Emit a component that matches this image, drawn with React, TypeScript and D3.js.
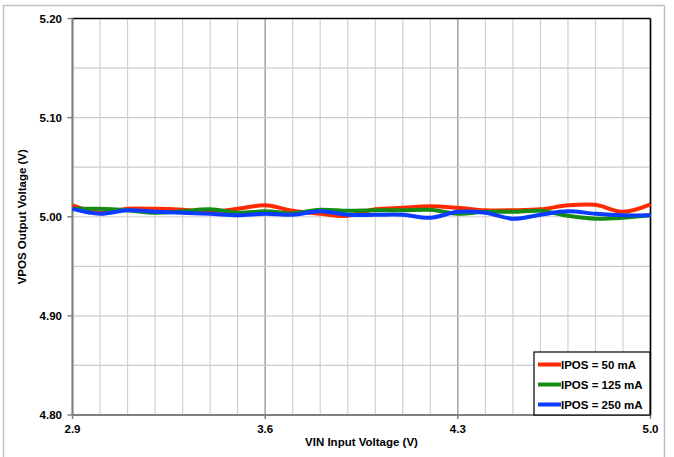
import React from "react";
import * as d3 from "d3";

const xValues = [2.9, 3.0, 3.1, 3.2, 3.3, 3.4, 3.5, 3.6, 3.7, 3.8, 3.9, 4.0, 4.1, 4.2, 4.3, 4.4, 4.5, 4.6, 4.7, 4.8, 4.9, 5.0];
const ipos50 = [5.0115, 5.004, 5.008, 5.008, 5.007, 5.005, 5.008, 5.0115, 5.006, 5.003, 5.001, 5.0075, 5.009, 5.0105, 5.009, 5.0065, 5.0065, 5.0075, 5.0115, 5.012, 5.005, 5.0125];
const ipos125 = [5.008, 5.008, 5.0065, 5.004, 5.0055, 5.0075, 5.004, 5.0055, 5.0035, 5.007, 5.006, 5.0065, 5.0065, 5.007, 5.003, 5.005, 5.005, 5.006, 5.001, 4.998, 4.999, 5.0015];
const ipos250 = [5.008, 5.003, 5.0065, 5.005, 5.004, 5.003, 5.0015, 5.003, 5.002, 5.0055, 5.002, 5.002, 5.002, 4.999, 5.005, 5.004, 4.998, 5.002, 5.0055, 5.003, 5.0015, 5.0015];
const seriesNames = ["IPOS = 50 mA", "IPOS = 125 mA", "IPOS = 250 mA"];
const seriesColors = ["#ff2a00", "#148c14", "#0a3cff"];
const xTickLabels = [2.9, 3.6, 4.3, 5.0];
const yTickLabels = [4.8, 4.9, 5.0, 5.1, 5.2];

export default function App() {
  const W = 674, H = 457;
  const left = 72.5, right = 650.5, top = 18.5, bottom = 415;
  const x = d3.scaleLinear().domain([2.9, 5.0]).range([left, right]);
  const y = d3.scaleLinear().domain([4.8, 5.2]).range([bottom, top]);
  const series = [ipos50, ipos125, ipos250];
  const line = d3.line<[number, number]>().x(d => x(d[0])).y(d => y(d[1])).curve(d3.curveCatmullRom.alpha(0.5));
  const xGrid = d3.range(0, 22).map(i => +(2.9 + i * 0.1).toFixed(2));
  const yGrid = d3.range(0, 9).map(i => +(4.8 + i * 0.05).toFixed(3));
  const font = "'Liberation Sans', Arial, sans-serif";
  const legX = 534, legY = 352, legW = 116, legH = 63;
  return (
    <svg width={W} height={H} style={{ position: "absolute", left: 0, top: 0 }} fontFamily={font}>
      <rect x={0} y={0} width={W} height={H} fill="#fff" />
      <rect x={3.5} y={5.5} width={661} height={460} fill="none" stroke="#c0c0c0" strokeWidth={1.5} />
      {xGrid.map((v, i) => {
        const major = Math.abs(((v - 2.9) / 0.7) - Math.round((v - 2.9) / 0.7)) < 1e-6;
        return <line key={"xg" + i} x1={x(v)} x2={x(v)} y1={top} y2={bottom} stroke={major ? "#a0a0a0" : "#d0d0d0"} strokeWidth={major ? 1.5 : 1.2} />;
      })}
      {yGrid.map((v, i) => (
        <line key={"yg" + i} x1={left} x2={right} y1={y(v)} y2={y(v)} stroke="#cccccc" strokeWidth={1.2} />
      ))}
      <line x1={left} x2={right} y1={top} y2={top} stroke="#000" strokeWidth={1.5} />
      <line x1={right} x2={right} y1={top} y2={bottom} stroke="#000" strokeWidth={1.5} />
      <line x1={left} x2={left} y1={top} y2={bottom} stroke="#808080" strokeWidth={2} />
      <line x1={left} x2={right} y1={bottom} y2={bottom} stroke="#808080" strokeWidth={2} />
      {yTickLabels.map((v, i) => (
        <g key={"yt" + i}>
          <line x1={left - 5} x2={left} y1={y(v)} y2={y(v)} stroke="#808080" strokeWidth={1.5} />
          <text x={62} y={y(v) + 4} textAnchor="end" fontSize={11.5} fontWeight="bold">{v.toFixed(2)}</text>
        </g>
      ))}
      {xTickLabels.map((v, i) => (
        <g key={"xt" + i}>
          <line x1={x(v)} x2={x(v)} y1={bottom} y2={bottom + 4} stroke="#808080" strokeWidth={1.5} />
          <text x={x(v)} y={433} textAnchor="middle" fontSize={11.5} fontWeight="bold">{v.toFixed(1)}</text>
        </g>
      ))}
      <text x={(left + right) / 2} y={446} textAnchor="middle" fontSize={11.5} fontWeight="bold">VIN Input Voltage (V)</text>
      <text transform={`translate(26,${(top + bottom) / 2}) rotate(-90)`} textAnchor="middle" fontSize={11.5} fontWeight="bold">VPOS Output Voltage (V)</text>
      {series.map((s, k) => (
        <path key={"s" + k} d={line(xValues.map((v, i) => [v, s[i]] as [number, number])) || ""} fill="none" stroke={seriesColors[k]} strokeWidth={4} strokeLinejoin="round" />
      ))}
      <rect x={legX} y={legY} width={legW} height={legH} fill="#fff" stroke="#000" strokeWidth={1.2} />
      {seriesNames.map((n, k) => (
        <g key={"l" + k}>
          <line x1={legX + 4} x2={legX + 27} y1={legY + 12.5 + k * 20} y2={legY + 12.5 + k * 20} stroke={seriesColors[k]} strokeWidth={4} />
          <text x={legX + 27} y={legY + 16.5 + k * 20} fontSize={11.5} fontWeight="bold">{n}</text>
        </g>
      ))}
    </svg>
  );
}
